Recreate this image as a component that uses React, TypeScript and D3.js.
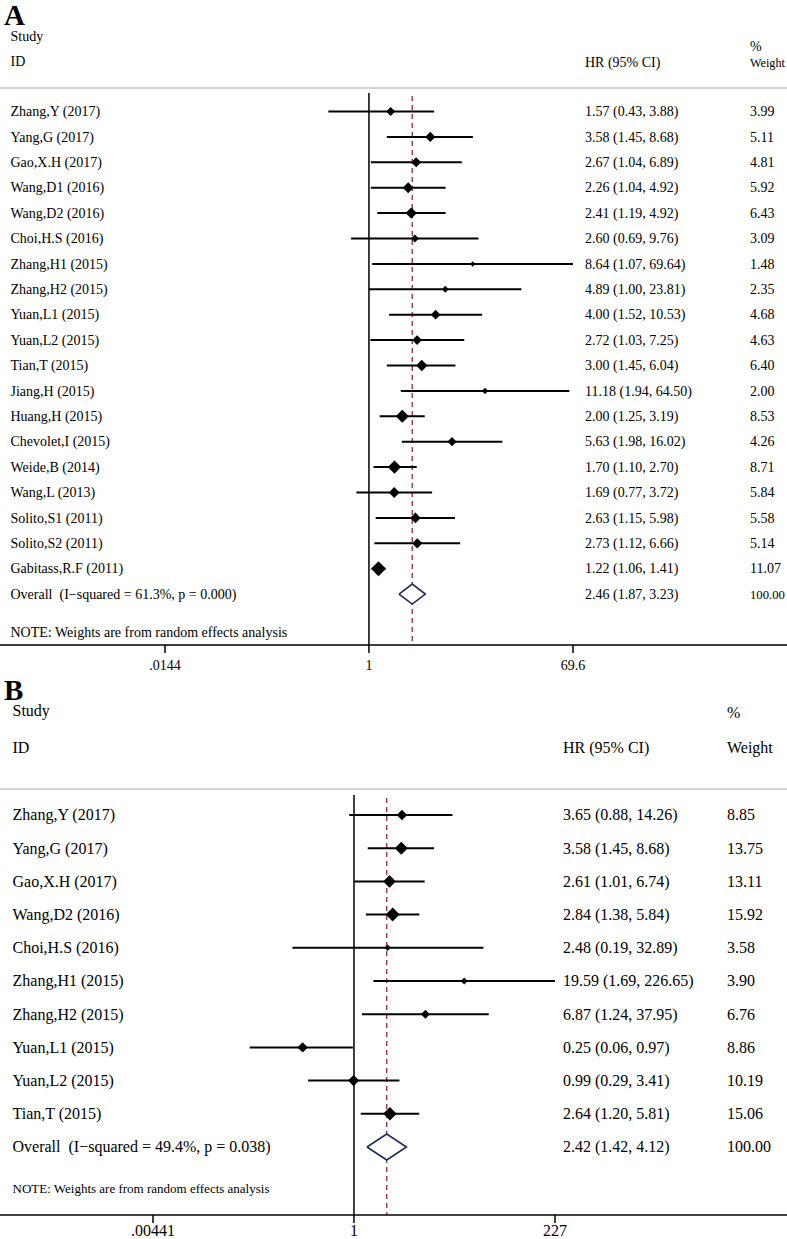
import React from "react";
import * as d3 from "d3";

// ---------- Panel A data ----------
const studiesA = [
  "Zhang,Y (2017)", "Yang,G (2017)", "Gao,X.H (2017)", "Wang,D1 (2016)", "Wang,D2 (2016)",
  "Choi,H.S (2016)", "Zhang,H1 (2015)", "Zhang,H2 (2015)", "Yuan,L1 (2015)", "Yuan,L2 (2015)",
  "Tian,T (2015)", "Jiang,H (2015)", "Huang,H (2015)", "Chevolet,I (2015)", "Weide,B (2014)",
  "Wang,L (2013)", "Solito,S1 (2011)", "Solito,S2 (2011)", "Gabitass,R.F (2011)",
];
const hrA = [1.57, 3.58, 2.67, 2.26, 2.41, 2.60, 8.64, 4.89, 4.00, 2.72, 3.00, 11.18, 2.00, 5.63, 1.70, 1.69, 2.63, 2.73, 1.22];
const lowA = [0.43, 1.45, 1.04, 1.04, 1.19, 0.69, 1.07, 1.00, 1.52, 1.03, 1.45, 1.94, 1.25, 1.98, 1.10, 0.77, 1.15, 1.12, 1.06];
const highA = [3.88, 8.68, 6.89, 4.92, 4.92, 9.76, 69.64, 23.81, 10.53, 7.25, 6.04, 64.50, 3.19, 16.02, 2.70, 3.72, 5.98, 6.66, 1.41];
const weightA = [3.99, 5.11, 4.81, 5.92, 6.43, 3.09, 1.48, 2.35, 4.68, 4.63, 6.40, 2.00, 8.53, 4.26, 8.71, 5.84, 5.58, 5.14, 11.07];
const overallA = { label: "Overall  (I\u2212squared = 61.3%, p = 0.000)", hr: 2.46, low: 1.87, high: 3.23, weight: 100 };
const tickValsA = [0.0144, 1, 69.6];
const tickLabelsA = [".0144", "1", "69.6"];

// ---------- Panel B data ----------
const studiesB = [
  "Zhang,Y (2017)", "Yang,G (2017)", "Gao,X.H (2017)", "Wang,D2 (2016)", "Choi,H.S (2016)",
  "Zhang,H1 (2015)", "Zhang,H2 (2015)", "Yuan,L1 (2015)", "Yuan,L2 (2015)", "Tian,T (2015)",
];
const hrB = [3.65, 3.58, 2.61, 2.84, 2.48, 19.59, 6.87, 0.25, 0.99, 2.64];
const lowB = [0.88, 1.45, 1.01, 1.38, 0.19, 1.69, 1.24, 0.06, 0.29, 1.20];
const highB = [14.26, 8.68, 6.74, 5.84, 32.89, 226.65, 37.95, 0.97, 3.41, 5.81];
const weightB = [8.85, 13.75, 13.11, 15.92, 3.58, 3.90, 6.76, 8.86, 10.19, 15.06];
const overallB = { label: "Overall  (I\u2212squared = 49.4%, p = 0.038)", hr: 2.42, low: 1.42, high: 4.12, weight: 100 };
const tickValsB = [0.00441, 1, 227];
const tickLabelsB = [".00441", "1", "227"];

const FONT = "'Liberation Serif', 'Times New Roman', serif";
const W = 787;
const H = 1239;

let ctx: CanvasRenderingContext2D | null = null;
function measure(s: string, fs: number): number {
  if (!ctx) ctx = document.createElement("canvas").getContext("2d");
  if (!ctx) return s.length * fs * 0.5;
  ctx.font = `${fs}px 'Liberation Serif'`;
  return ctx.measureText(s).width;
}

// Shrinks the font of a text that would run past the right edge
function FitText({ x, y, fs, s, maxRight }: { x: number; y: number; fs: number; s: string; maxRight: number }) {
  const w = measure(s, fs);
  const avail = maxRight - x;
  const size = w > avail ? Math.floor((fs * avail / w) * 10) / 10 : fs;
  return <text x={x} y={y} fontSize={size}>{s}</text>;
}

type Cfg = {
  letter: string; letterY: number;
  studyY: number; idY: number; pctY: number; hdrY: number;
  labelX: number; hrX: number; wX: number;
  gridY: number; row0: number; dy: number;
  lineTop: number; axisY: number; tickLabelY: number; noteY: number;
  fs: number; noteFs: number;
  domain: [number, number]; range: [number, number];
  k: number; ovHalf: number;
  studies: string[]; hr: number[]; low: number[]; high: number[]; weight: number[];
  overall: { label: string; hr: number; low: number; high: number; weight: number };
  tickVals: number[]; tickLabels: string[];
};

function Panel({ c }: { c: Cfg }) {
  const x = d3.scaleLog().domain(c.domain).range(c.range);
  const n = c.studies.length;
  const rowY = (i: number) => c.row0 + i * c.dy;
  const tOff = c.fs * 0.34;
  const ovY = rowY(n);
  const ov = c.overall;
  const diamond = d3.line()([
    [x(ov.low), ovY], [x(ov.hr), ovY - c.ovHalf], [x(ov.high), ovY], [x(ov.hr), ovY + c.ovHalf], [x(ov.low), ovY],
  ] as [number, number][]);
  const fmt = (v: number) => v.toFixed(2);
  const maxR = W - 2;
  return (
    <g fontFamily={FONT}>
      <text x={4} y={c.letterY} fontSize={29} fontWeight="bold">{c.letter}</text>
      <text x={c.labelX} y={c.studyY} fontSize={c.fs}>Study</text>
      <text x={c.labelX} y={c.idY} fontSize={c.fs}>ID</text>
      <text x={c.wX} y={c.pctY} fontSize={c.fs}>%</text>
      <text x={c.hrX} y={c.hdrY} fontSize={c.fs}>HR (95% CI)</text>
      <FitText x={c.wX} y={c.hdrY} fs={c.fs} s="Weight" maxRight={maxR} />
      <line x1={0} x2={W} y1={c.gridY} y2={c.gridY} stroke="#c4c4c4" strokeWidth={1.5} />
      {/* null line */}
      <line x1={x(1)} x2={x(1)} y1={c.lineTop} y2={c.axisY} stroke="#000" strokeWidth={1.5} />
      {/* overall dashed line */}
      <line x1={x(ov.hr)} x2={x(ov.hr)} y1={c.lineTop + 3} y2={c.axisY} stroke="#8e2a3a" strokeWidth={1.3} strokeDasharray="5,4" />
      {c.studies.map((s, i) => {
        const y = rowY(i);
        const h = c.k * Math.sqrt(c.weight[i]);
        const cx = x(c.hr[i]);
        return (
          <g key={s}>
            <line x1={x(c.low[i])} x2={x(c.high[i])} y1={y} y2={y} stroke="#000" strokeWidth={2} />
            <path d={`M${cx - h},${y}L${cx},${y - h}L${cx + h},${y}L${cx},${y + h}Z`} fill="#000" />
            <text x={c.labelX} y={y + tOff} fontSize={c.fs}>{s}</text>
            <text x={c.hrX} y={y + tOff} fontSize={c.fs}>{`${fmt(c.hr[i])} (${fmt(c.low[i])}, ${fmt(c.high[i])})`}</text>
            <FitText x={c.wX} y={y + tOff} fs={c.fs} s={fmt(c.weight[i])} maxRight={maxR} />
          </g>
        );
      })}
      <path d={diamond ?? ""} fill="#fff" stroke="#1f2b5a" strokeWidth={1.6} />
      <text x={c.labelX} y={ovY + tOff} fontSize={c.fs} style={{ whiteSpace: "pre" }}>{ov.label}</text>
      <text x={c.hrX} y={ovY + tOff} fontSize={c.fs}>{`${fmt(ov.hr)} (${fmt(ov.low)}, ${fmt(ov.high)})`}</text>
      <FitText x={c.wX} y={ovY + tOff} fs={c.fs} s={fmt(ov.weight)} maxRight={maxR} />
      <text x={c.labelX} y={c.noteY} fontSize={c.noteFs}>NOTE: Weights are from random effects analysis</text>
      {/* axis */}
      <line x1={0} x2={W} y1={c.axisY} y2={c.axisY} stroke="#000" strokeWidth={1.5} />
      {c.tickVals.map((v, i) => (
        <g key={i}>
          <line x1={x(v)} x2={x(v)} y1={c.axisY} y2={c.axisY + 8} stroke="#000" strokeWidth={1.5} />
          <text x={x(v)} y={c.tickLabelY} fontSize={c.fs} textAnchor="middle">{c.tickLabels[i]}</text>
        </g>
      ))}
    </g>
  );
}

const cfgA: Cfg = {
  letter: "A", letterY: 25,
  studyY: 41, idY: 66, pctY: 51, hdrY: 67,
  labelX: 10.5, hrX: 585, wX: 750,
  gridY: 88, row0: 111.5, dy: 25.4,
  lineTop: 93, axisY: 645, tickLabelY: 670, noteY: 637,
  fs: 14, noteFs: 14,
  domain: [0.0144, 69.6], range: [165, 573],
  k: 2.25, ovHalf: 10,
  studies: studiesA, hr: hrA, low: lowA, high: highA, weight: weightA,
  overall: overallA, tickVals: tickValsA, tickLabels: tickLabelsA,
};

const cfgB: Cfg = {
  letter: "B", letterY: 700,
  studyY: 716, idY: 753, pctY: 718, hdrY: 753,
  labelX: 12.5, hrX: 563, wX: 727,
  gridY: 789, row0: 815, dy: 33.2,
  lineTop: 795, axisY: 1215, tickLabelY: 1236, noteY: 1193,
  fs: 16, noteFs: 13,
  domain: [0.00441, 227], range: [153, 555],
  k: 1.75, ovHalf: 13,
  studies: studiesB, hr: hrB, low: lowB, high: highB, weight: weightB,
  overall: overallB, tickVals: tickValsB, tickLabels: tickLabelsB,
};

export default function App() {
  return (
    <svg width={W} height={H} style={{ position: "absolute", left: 0, top: 0, background: "#fff" }}>
      <rect width={W} height={H} fill="#fff" />
      <Panel c={cfgA} />
      <Panel c={cfgB} />
    </svg>
  );
}
